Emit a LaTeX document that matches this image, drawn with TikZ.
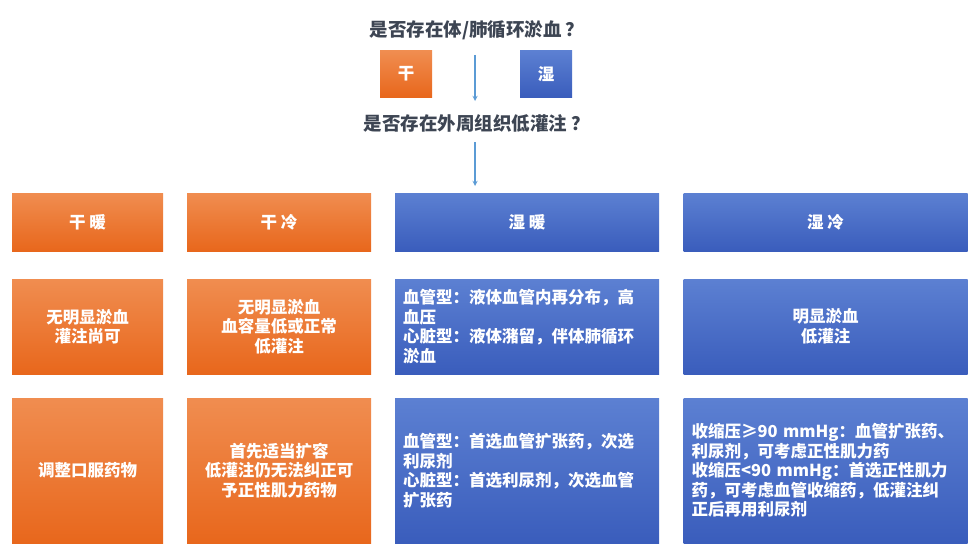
\documentclass[tikz,border=0pt]{standalone}
\usepackage{fontspec}
\setmainfont{Noto Sans CJK SC}
\usepackage{tikz}
\usepackage{xcolor}
\usetikzlibrary{arrows, positioning}

\definecolor{orangetop}{HTML}{F08D50}
\definecolor{orangebot}{HTML}{E8671C}
\definecolor{bluetop}{HTML}{5C80D2}
\definecolor{bluebot}{HTML}{3A5DBC}
\definecolor{asktext}{HTML}{3D4553}
\definecolor{arrowblue}{HTML}{5B9BD5}

\begin{document}
\begin{tikzpicture}[x=1pt, y=-1pt,
    ask/.style={font=\fontsize{18.5}{22}\selectfont\bfseries, text=asktext, inner sep=0pt},
    warmbox/.style={top color=orangetop, bottom color=orangebot, draw=none, text=white,
        font=\fontsize{16.5}{19.5}\selectfont\bfseries, align=center, inner sep=0pt},
    wetbox/.style={top color=bluetop, bottom color=bluebot, draw=none, text=white,
        font=\fontsize{16.5}{19.5}\selectfont\bfseries, inner sep=0pt},
    flow/.style={->, >=stealth, arrowblue, line width=1.3pt}]
\useasboundingbox (0,0) rectangle (980,551);

% Questions
\node[ask] (ask1) at (477,30) {是否存在体/肺循环淤血 ？};
\node[warmbox, minimum width=52, minimum height=46] (gan) at (406,74) {干};
\node[wetbox, minimum width=52, minimum height=46] (shi) at (546,74) {湿};
\node[ask] (ask2) at (477,123) {是否存在外周组织低灌注 ？};

% Arrow ends
\coordinate (a1s) at (475,55);
\coordinate (a1e) at (475,101);
\coordinate (a2s) at (475,142);
\coordinate (a2e) at (475,186);
\draw[flow] (a1s) -- (a1e);
\draw[flow] (a2s) -- (a2e);

% Row 1: the four profiles
\node[warmbox, minimum width=151, minimum height=58] (dw) at (87.5,222) {干 暖};
\node[warmbox, minimum width=184, minimum height=58] (dc) at (279,222) {干 冷};
\node[wetbox, minimum width=264, minimum height=58] (ww) at (527,222) {湿 暖};
\node[wetbox, minimum width=284, minimum height=58] (wc) at (825.5,222) {湿 冷};

% Row 2: findings
\node[warmbox, minimum width=151, minimum height=95] (dwfind) at (87.5,326.5) {无明显淤血\\灌注尚可};
\node[warmbox, minimum width=184, minimum height=95] (dcfind) at (279,326.5) {无明显淤血\\血容量低或正常\\低灌注};
\node[wetbox, minimum width=264, minimum height=95, text width=248, align=left] (wwfind) at (527,326.5)
    {血管型：液体血管内再分布，高\\血压\\心脏型：液体潴留，伴体肺循环\\淤血};
\node[wetbox, minimum width=284, minimum height=95, align=center] (wcfind) at (825.5,326.5) {明显淤血\\低灌注};

% Row 3: treatment
\node[warmbox, minimum width=151, minimum height=145] (dwtreat) at (87.5,470.5) {调整口服药物};
\node[warmbox, minimum width=184, minimum height=145] (dctreat) at (279,470.5) {首先适当扩容\\低灌注仍无法纠正可\\予正性肌力药物};
\node[wetbox, minimum width=264, minimum height=145, text width=248, align=left] (wwtreat) at (527,470.5)
    {血管型：首选血管扩张药，次选\\利尿剂\\心脏型：首选利尿剂，次选血管\\扩张药};
\node[wetbox, minimum width=284, minimum height=145, text width=268, align=left] (wctreat) at (825.5,470.5)
    {收缩压≥90 mmHg：血管扩张药、\\利尿剂，可考虑正性肌力药\\收缩压<90 mmHg：首选正性肌力\\药，可考虑血管收缩药，低灌注纠\\正后再用利尿剂};
\end{tikzpicture}
\end{document}
